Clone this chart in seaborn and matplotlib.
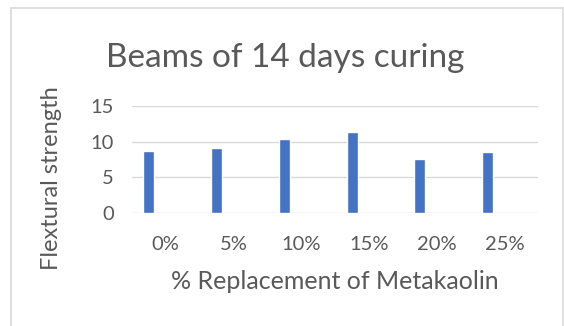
import numpy as np
import pandas as pd
import matplotlib
matplotlib.use("Agg")
import matplotlib.pyplot as plt
from matplotlib.patches import Rectangle
import seaborn as sns

# Flexural strength of beams after 14 days of curing
replacement = ["0%", "5%", "10%", "15%", "20%", "25%"]
strength = [8.7, 9.1, 10.3, 11.4, 7.5, 8.6]
# Chart series slots (only the first one carries values)
series = ["Series1", "Series2", "Series3", "Series4"]
y_ticks = [0, 5, 10, 15]

rows = []
for i, cat in enumerate(replacement):
    rows.append({"cat": cat, "series": series[0], "value": strength[i]})
    for s in series[1:]:
        rows.append({"cat": cat, "series": s, "value": np.nan})
df = pd.DataFrame(rows)

sns.set_theme(style="white")
plt.rcParams["font.family"] = ["Lato", "DejaVu Sans"]

text_color = "#595959"
grid_color = "#D9D9D9"
bar_color = "#4472C4"

fig = plt.figure(figsize=(5.64, 3.26), dpi=100)
fig.patch.set_facecolor("white")

# Light chart-area frame
fig.patches.append(Rectangle((10.5 / 564, -0.05), (563 - 10.5) / 564, (326 - 7.5) / 326 + 0.05,
                             transform=fig.transFigure, fill=False,
                             edgecolor="#D9D9D9", linewidth=1.2, zorder=0))

ax = fig.add_axes([131.7 / 564, 113.3 / 326, (538.3 - 131.7) / 564, (220 - 113.3) / 326])
sns.barplot(data=df, x="cat", y="value", hue="series", hue_order=series,
            order=replacement, palette=[bar_color] * 4, width=0.66,
            saturation=1, legend=False, ax=ax, errorbar=None)

ax.set_ylim(0, 15)
ax.set_yticks(y_ticks)
ax.yaxis.grid(True, color=grid_color, linewidth=1.0)
ax.set_axisbelow(True)
for sp in ax.spines.values():
    sp.set_visible(False)
ax.tick_params(axis="both", length=0, labelsize=14.5, colors=text_color)
ax.tick_params(axis="x", pad=17)
ax.tick_params(axis="y", pad=13)

ax.set_xlabel("% Replacement of Metakaolin", fontsize=18, color=text_color, labelpad=12)
ax.set_ylabel("Flextural strength", fontsize=17, color=text_color)
ax.yaxis.set_label_coords(-0.171, 0.325)

fig.text(285.5 / 564, 1 - 67 / 326, "Beams of 14 days curing", ha="center", va="baseline",
         fontsize=24, color=text_color)

fig.savefig("out.png", dpi=100, facecolor="white")
